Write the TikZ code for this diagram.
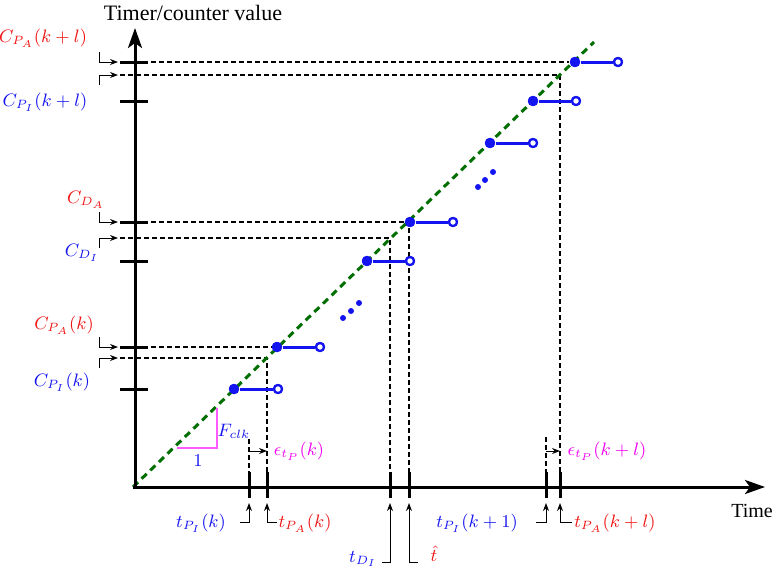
\documentclass[tikz,border=0pt]{standalone}
\usepackage{fontspec}
\setmainfont{Liberation Serif}
\usetikzlibrary{arrows.meta}
\definecolor{rampgreen}{RGB}{0,110,0}
\definecolor{lblred}{RGB}{240,20,20}
\definecolor{lblblue}{RGB}{20,20,240}
\definecolor{lblmag}{RGB}{240,0,240}
\definecolor{tripink}{RGB}{255,90,255}
\begin{document}
\begin{tikzpicture}[x=0.5pt,y=-0.5pt,
  axisline/.style={line width=1.5pt,-{Stealth[length=10pt,width=7pt,inset=2.5pt]}},
  tickmark/.style={line width=1.5pt},
  guide/.style={line width=0.6pt,dash pattern=on 2.5pt off 1.5pt},
  pointer/.style={line width=0.5pt,-{Stealth[length=4pt,width=3pt]}},
  ramp/.style={rampgreen,line width=1.5pt,dash pattern=on 3.5pt off 2.5pt},
  seg/.style={lblblue,line width=1.5pt},
  fdot/.style={circle,fill=lblblue,inner sep=0pt,minimum size=5.2pt},
  hdot/.style={circle,draw=lblblue,fill=white,line width=1.1pt,inner sep=0pt,minimum size=4pt},
  edot/.style={circle,fill=lblblue,inner sep=0pt,minimum size=3pt},
  lbl/.style={inner sep=0pt,font=\fontsize{9.2}{11}\selectfont},
  red lbl/.style={lbl,text=lblred},
  blue lbl/.style={lbl,text=lblblue},
  mag lbl/.style={lbl,text=lblmag}
]
\useasboundingbox (0,0) rectangle (772,574);

% --- key coordinates
\coordinate (O) at (135,487);
\coordinate (ytop) at (135,28);
\coordinate (xend) at (765,487);
\coordinate (rampS) at (133,487);
\coordinate (rampE) at (594,42);

% --- blue staircase dots
\node[fdot] (d1) at (234,389) {};  \node[hdot] (h1) at (278,389) {};
\node[fdot] (d2) at (277,347) {};  \node[hdot] (h2) at (320,347) {};
\node[fdot] (d3) at (367,261) {};  \node[hdot] (h3) at (410,261) {};
\node[fdot] (d4) at (410,222) {};  \node[hdot] (h4) at (453,222) {};
\node[fdot] (d5) at (490,143) {};  \node[hdot] (h5) at (533,143) {};
\node[fdot] (d6) at (533,101) {};  \node[hdot] (h6) at (576,101) {};
\node[fdot] (d7) at (575,62) {};   \node[hdot] (h7) at (618,62) {};

% --- guides (dashed)
\coordinate (yA1) at (135,62);  \coordinate (yA2) at (135,222);  \coordinate (yA3) at (135,347);
\coordinate (yI1) at (120,75);  \coordinate (yI2) at (120,238);  \coordinate (yI3) at (120,358);
\coordinate (c1) at (560,75);   \coordinate (c2) at (390,238);   \coordinate (c3) at (267,358);
\coordinate (b1) at (560,472);  \coordinate (b2) at (390,472);   \coordinate (b3) at (267,472);
\coordinate (b4) at (409,472);  \coordinate (b5) at (249,472);   \coordinate (b6) at (546,472);
\coordinate (u5) at (249,439);  \coordinate (u6) at (546,437);
\coordinate (v4) at (409,228);
\draw[guide] (yA1) -- (d7);
\draw[guide] (yA2) -- (d4);
\draw[guide] (yA3) -- (d2);
\draw[guide] (yI1) -- (c1) -- (b1);
\draw[guide] (yI2) -- (c2) -- (b2);
\draw[guide] (yI3) -- (c3) -- (b3);
\draw[guide] (v4) -- (b4);
\draw[guide] (u5) -- (b5);
\draw[guide] (u6) -- (b6);

% --- ramp
\draw[ramp] (rampS) -- (rampE);

% --- segments
\foreach \i in {1,...,7} {\draw[seg] (d\i) -- (h\i);}
\foreach \i in {1,...,7} {\node[fdot] at (d\i) {}; \node[hdot] at (h\i) {};}

% --- ellipsis dots
\node[edot] (e1) at (343,318) {}; \node[edot] (e2) at (351,311) {}; \node[edot] (e3) at (359,303) {};
\node[edot] (e4) at (478,187) {}; \node[edot] (e5) at (485,180) {}; \node[edot] (e6) at (493,172) {};

% --- slope triangle
\coordinate (tA) at (177,448); \coordinate (tB) at (217,448); \coordinate (tC) at (217,408);
\draw[tripink,line width=0.7pt] (tA) -- (tB) -- (tC);
\node[blue lbl] (one) at (198,461) {$1$};
\node[blue lbl] (fclk) at (234,431) {$F_{clk}$};

% --- axes
\draw[axisline] (O) -- (ytop);
\draw[axisline] (rampS) -- (xend);
\node[inner sep=0pt,font=\fontsize{11}{13}\selectfont] (ylabel) at (193,13) {Timer/counter value};
\node[inner sep=0pt,font=\fontsize{10}{12}\selectfont] (xlabel) at (752,511) {Time};

% --- y ticks
\foreach \y [count=\n] in {62,101,222,261,347,389} {
  \coordinate (yl\n) at (120,\y); \coordinate (yr\n) at (148,\y);
  \draw[tickmark] (yl\n) -- (yr\n);
}
% --- x ticks
\foreach \x [count=\n] in {249,267,390,409,546,560} {
  \coordinate (xt\n) at (\x,472); \coordinate (xb\n) at (\x,498);
  \draw[tickmark] (xt\n) -- (xb\n);
}

% --- left bent pointers
\foreach \y [count=\n] in {62,222,347} {
  \coordinate (pa\n) at (99,\y-10); \coordinate (pb\n) at (99,\y); \coordinate (pc\n) at (118,\y);
  \draw[pointer] (pa\n) -- (pb\n) -- (pc\n);
}
\foreach \y [count=\n] in {75,238,358} {
  \coordinate (qa\n) at (99,\y+10); \coordinate (qb\n) at (99,\y); \coordinate (qc\n) at (118,\y);
  \draw[pointer] (qa\n) -- (qb\n) -- (qc\n);
}

% --- left labels
\node[red lbl] (lCPAkl) at (43,38) {$C_{P_A}(k+l)$};
\node[blue lbl] (lCPIkl) at (45,102) {$C_{P_I}(k+l)$};
\node[red lbl] (lCDA) at (86,200) {$C_{D_A}$};
\node[blue lbl] (lCDI) at (82,253) {$C_{D_I}$};
\node[red lbl] (lCPAk) at (64,325) {$C_{P_A}(k)$};
\node[blue lbl] (lCPIk) at (62,382) {$C_{P_I}(k)$};

% --- epsilon pointers
\coordinate (ea1) at (249,451); \coordinate (eb1) at (267,451);
\coordinate (ea2) at (546,451); \coordinate (eb2) at (560,451);
\draw[pointer] (ea1) -- (eb1);
\draw[pointer] (ea2) -- (eb2);
\node[mag lbl] (eps1) at (299,451) {$\epsilon_{t_P}(k)$};
\node[mag lbl] (eps2) at (607,451) {$\epsilon_{t_P}(k+l)$};

% --- bottom bent pointers
\coordinate (s1) at (240,522); \coordinate (m1) at (249,522); \coordinate (e1p) at (249,503);
\coordinate (s2) at (277,522); \coordinate (m2) at (267,522); \coordinate (e2p) at (267,503);
\coordinate (s3) at (382,562); \coordinate (m3) at (390,562); \coordinate (e3p) at (390,503);
\coordinate (s4) at (418,562); \coordinate (m4) at (409,562); \coordinate (e4p) at (409,503);
\coordinate (s5) at (536,522); \coordinate (m5) at (546,522); \coordinate (e5p) at (546,503);
\coordinate (s6) at (572,522); \coordinate (m6) at (560,522); \coordinate (e6p) at (560,503);
\foreach \i in {1,...,6} {\draw[pointer] (s\i) -- (m\i) -- (e\i p);}

\node[blue lbl] (ltPIk) at (201,523) {$t_{P_I}(k)$};
\node[red lbl] (ltPAk) at (305,523) {$t_{P_A}(k)$};
\node[blue lbl] (ltDI) at (363,559) {$t_{D_I}$};
\node[red lbl] (lthat) at (434,554) {$\hat{t}$};
\node[blue lbl] (ltPIk1) at (477,523) {$t_{P_I}(k+1)$};
\node[red lbl] (ltPAkl) at (615,523) {$t_{P_A}(k+l)$};
\end{tikzpicture}
\end{document}
